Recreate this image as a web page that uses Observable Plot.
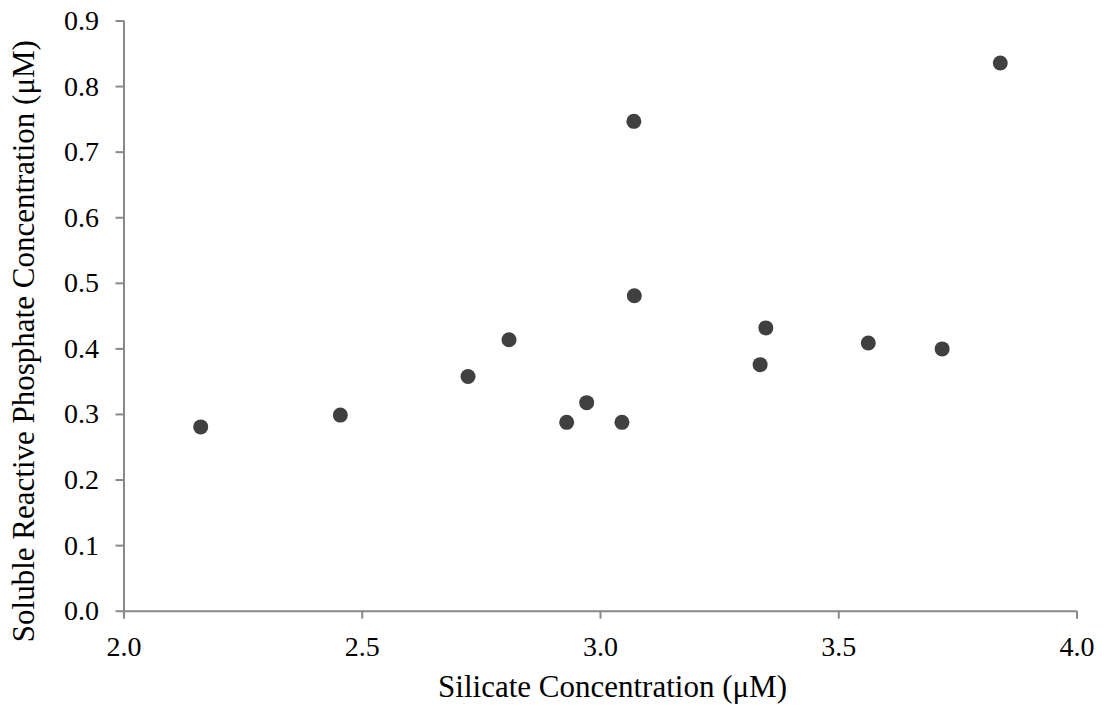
<!DOCTYPE html>
<html>
<head>
<meta charset="utf-8">
<script src="https://cdn.jsdelivr.net/npm/d3@7"></script>
<script src="https://cdn.jsdelivr.net/npm/@observablehq/plot@0.6"></script>
<style>
  html, body { margin: 0; padding: 0; background: #fff; }
  #chart svg { display: block; }
</style>
</head>
<body>
<div id="chart"></div>
<script>
const silicate = [2.161, 2.454, 2.722, 2.808, 2.929, 2.971, 3.045, 3.070, 3.071, 3.335, 3.347, 3.562, 3.717, 3.839];
const phosphate = [0.281, 0.299, 0.358, 0.414, 0.288, 0.318, 0.288, 0.747, 0.481, 0.376, 0.432, 0.409, 0.400, 0.836];
const xTicks = [2.0, 2.5, 3.0, 3.5, 4.0];
const yTicks = [0.0, 0.1, 0.2, 0.3, 0.4, 0.5, 0.6, 0.7, 0.8, 0.9];
const xTitle = "Silicate Concentration (μM)";
const yTitle = "Soluble Reactive Phosphate Concentration (μM)";

const data = silicate.map((s, i) => ({x: s, y: phosphate[i]}));
const font = "'Liberation Serif', 'Times New Roman', serif";

const chart = Plot.plot({
  width: 1109,
  height: 706,
  marginLeft: 123.5,
  marginRight: 32.5,
  marginTop: 20.5,
  marginBottom: 95.3,
  style: {fontFamily: font, fontSize: "28px", color: "#000", background: "#fff"},
  x: {domain: [2, 4]},
  y: {domain: [0, 0.9]},
  marks: [
    Plot.ruleY([0], {stroke: "#898989", strokeWidth: 2}),
    Plot.ruleX([2], {stroke: "#898989", strokeWidth: 2}),
    Plot.axisX({ticks: xTicks, tickFormat: d3.format(".1f"), tickSize: 8, tickPadding: 17, stroke: "#898989", strokeWidth: 2, fill: "#000", label: null, fontSize: 28}),
    Plot.axisY({ticks: yTicks, tickFormat: d3.format(".1f"), tickSize: 8, tickPadding: 17, stroke: "#898989", strokeWidth: 2, fill: "#000", label: null, fontSize: 28}),
    Plot.dot(data, {x: "x", y: "y", r: 7.5, fill: "#404040", stroke: "none"}),
    Plot.text([xTitle], {frameAnchor: "bottom", textAnchor: "middle", lineAnchor: "middle", dx: 12, dy: 76, fontSize: 31, fill: "#000"}),
    Plot.text([yTitle], {frameAnchor: "left", textAnchor: "middle", lineAnchor: "middle", dx: -100, dy: 25, rotate: -90, fontSize: 31, fill: "#000"})
  ]
});
document.getElementById("chart").appendChild(chart);
</script>
</body>
</html>
